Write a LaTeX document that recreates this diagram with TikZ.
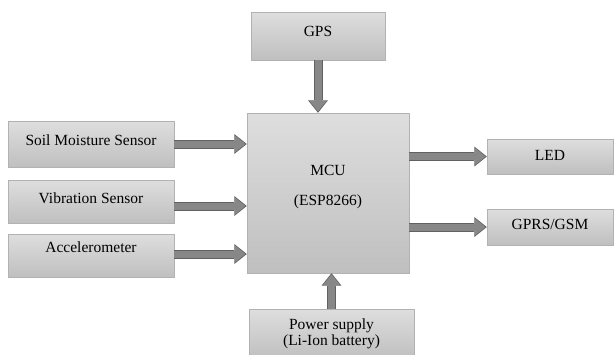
\documentclass[tikz,border=0pt]{standalone}
\usepackage{fontspec}
\setmainfont{Liberation Serif}
\usetikzlibrary{positioning, arrows.meta}
\tikzset{blk/.style={draw=black!30, top color=black!13, bottom color=black!25, inner sep=0pt},
         lift/.style={text height=11pt, text depth=#1},
         fat/.style={preaction={draw=black!62, line width=9pt, shorten >=0pt,
                     -{Triangle[length=12.5pt,width=20pt,line width=0pt]}},
                     draw=black!47, line width=7pt, shorten >=1.3pt,
                     -{Triangle[length=10.5pt,width=17pt,line width=0pt]}}}

\begin{document}
\begin{tikzpicture}[x=1pt, y=-1pt, font=\fontsize{15.5pt}{18pt}\selectfont]
        \useasboundingbox (0,0) rectangle (615,354);
        \node[blk, lift=8pt, minimum width=166pt, minimum height=46pt] (soil) at (91,144) {Soil Moisture Sensor};
        \node[blk, lift=7pt, minimum width=166pt, minimum height=43pt] (vib) at (91,201.5) {Vibration Sensor};
        \node[blk, lift=17pt, minimum width=166pt, minimum height=43pt] (acc) at (91,255.5) {Accelerometer};
        \node[blk, minimum width=162pt, minimum height=160pt] (mcu) at (328,193) {};
        \node[align=center, font=\fontsize{15.5pt}{30pt}\selectfont] (mcutxt) at ([yshift=6pt]mcu.center) {MCU\\(ESP8266)};
        \node[blk, lift=10pt, minimum width=134pt, minimum height=48pt] (gps) at (318,36) {GPS};
        \node[blk, align=center, font=\fontsize{15.5pt}{16pt}\selectfont, minimum width=165pt, minimum height=50pt] (pwr) at (331.5,334) {Power supply\\(Li-Ion battery)};
        \node[blk, lift=3pt, minimum width=126pt, minimum height=35pt] (led) at (550,156.5) {LED};
        \node[blk, lift=6pt, minimum width=126pt, minimum height=36pt] (gprs) at (550,227) {GPRS/GSM};
        \draw[fat] (soil.east) -- (soil.east -| mcu.west);
        \draw[fat] ([yshift=-4.5pt]vib.east) -- ([yshift=-4.5pt]vib.east -| mcu.west);
        \draw[fat] ([yshift=1.5pt]acc.east) -- ([yshift=1.5pt]acc.east -| mcu.west);
        \draw[fat] (gps.south) -- (gps.south |- mcu.north);
        \draw[fat] (pwr.north) -- (pwr.north |- mcu.south);
        \draw[fat] (mcu.east |- led.west) -- (led.west);
        \draw[fat] (mcu.east |- gprs.west) -- (gprs.west);
        \end{tikzpicture}
\end{document}
